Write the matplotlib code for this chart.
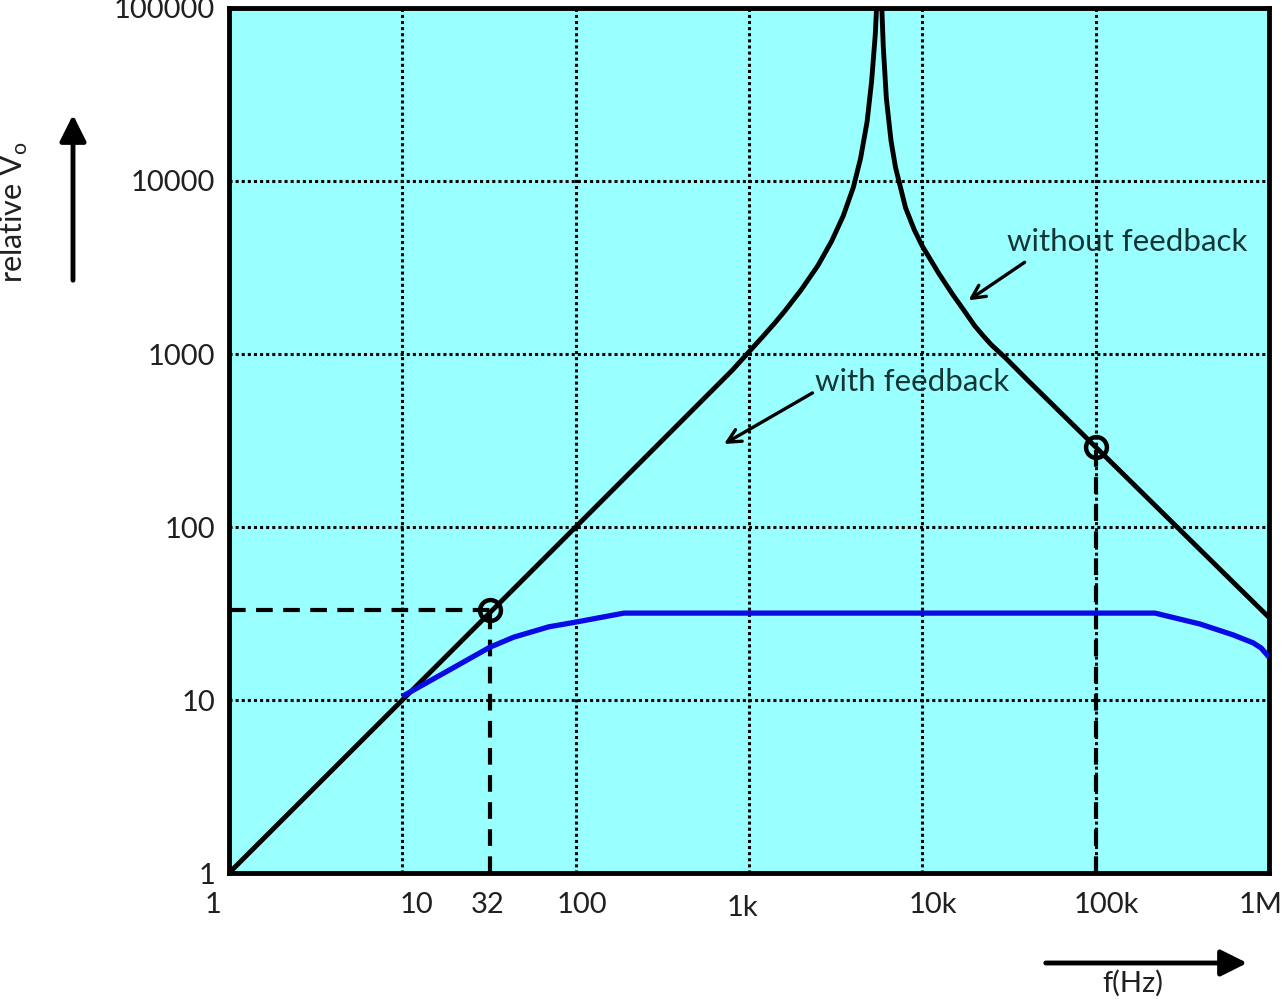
import numpy as np
import matplotlib.pyplot as plt
from matplotlib.patches import FancyArrowPatch
from matplotlib.transforms import ScaledTranslation

# open-loop gain (without feedback)
f_open = [1, 10, 100, 800, 1000, 1200, 1400, 1600, 1800, 2000, 2500, 3000,
          3500, 4000, 4400, 4800, 5100, 5350, 5550, 5650, 5750, 5950, 6200,
          6600, 7000, 8000, 9000, 10000, 12500, 15000, 17500, 20000, 22500,
          25000, 30000, 40000, 100000, 1000000]
a_open = [1, 10, 100, 805, 1030, 1260, 1500, 1760, 2050, 2350, 3250, 4500,
          6300, 9200, 13500, 22000, 38000, 70000, 150000, 300000, 150000,
          60000, 30000, 17000, 12000, 7000, 5200, 4200, 2900, 2200, 1770,
          1460, 1270, 1130, 955, 715, 290, 30]

# closed-loop gain (with feedback)
f_fb = [10, 20, 32, 44, 70, 100, 190, 1000, 10000, 100000, 220000, 400000,
        620000, 810000, 900000, 1000000]
a_fb = [10.5, 15.5, 20.2, 23.1, 26.5, 28.2, 31.8, 31.8, 31.8, 31.8, 31.8, 27.5,
        23.8, 21.4, 20.0, 17.7]

# -3 dB points
mark_f = [32, 100000]
mark_a = [33, 290]

xticks = [1, 10, 32, 100, 1000, 10000, 100000, 1000000]
xlabels = ['1', '10', '32', '100', '1k', '10k', '100k', '1M']
yticks = [1, 10, 100, 1000, 10000, 100000]
ylabels = ['1', '10', '100', '1000', '10000', '100000']

txt = '#153535'
plt.rcParams['font.family'] = ['Lato', 'DejaVu Sans']

fig = plt.figure(figsize=(12.83, 9.99), dpi=100)
ax = fig.add_axes([0.1785, 0.1261, 0.8106, 0.8659])
ax.set_facecolor('#99ffff')
ax.set_xscale('log')
ax.set_yscale('log')
ax.set_xlim(1, 1e6)
ax.set_ylim(1, 1e5)

for x in [10, 100, 1000, 10000, 100000]:
    ax.axvline(x, color='black', lw=2.2, ls=(0, (1, 1)), zorder=1)
for y in [10, 100, 1000, 10000]:
    ax.axhline(y, color='black', lw=2.2, ls=(0, (1, 1)), zorder=1)

ax.plot(f_open, a_open, color='black', lw=3.5, zorder=3)
ax.plot(f_fb, a_fb, color='#0a0ae6', lw=3.8, solid_capstyle='butt', zorder=3)

# dashed construction lines to the -3 dB points
ax.plot([1, mark_f[0]], [mark_a[0], mark_a[0]], color='black', lw=3,
        ls=(0, (4, 2.5)), zorder=2)
ax.plot([mark_f[0], mark_f[0]], [1, mark_a[0]], color='black', lw=3,
        ls=(0, (4, 2.5)), zorder=2)
ax.plot([mark_f[1], mark_f[1]], [1, mark_a[1]], color='black', lw=3,
        ls=(0, (4, 2.5)), zorder=2)
ax.plot(mark_f, mark_a, 'o', ms=15, mfc='none', mec='black', mew=3.2, zorder=4)

for s in ax.spines.values():
    s.set_linewidth(3.5)

ax.set_xticks(xticks)
ax.set_xticklabels(xlabels)
ax.set_yticks(yticks)
ax.set_yticklabels(ylabels)
ax.minorticks_off()
ax.tick_params(axis='both', length=0, labelsize=21, labelcolor='#202020')
ax.tick_params(axis='x', pad=14)
ax.tick_params(axis='y', pad=10)

# the labels under the x axis are not quite centred on their ticks
x_shift = [-16, 14, -2, 6, -7, 11, 11, -8]
y_shift = [0, 0, 0, 0, -3, 0, 0, 0]
for lab, dx, dy in zip(ax.get_xticklabels(), x_shift, y_shift):
    lab.set_transform(lab.get_transform() + ScaledTranslation(dx / 100, dy / 100, fig.dpi_scale_trans))

ax.text(0.748, 0.7295, 'without feedback', transform=ax.transAxes,
        fontsize=22.5, color=txt, ha='left', va='center')
ax.text(0.563, 0.5676, 'with feedback', transform=ax.transAxes,
        fontsize=22.5, color=txt, ha='left', va='center')
ax.annotate('', xy=(0.711, 0.662), xytext=(0.765, 0.706),
            xycoords='axes fraction', textcoords='axes fraction',
            arrowprops=dict(arrowstyle='->', color='black', lw=2.4,
                            shrinkA=0, shrinkB=0, mutation_scale=24))
ax.annotate('', xy=(0.476, 0.496), xytext=(0.561, 0.555),
            xycoords='axes fraction', textcoords='axes fraction',
            arrowprops=dict(arrowstyle='->', color='black', lw=2.4,
                            shrinkA=0, shrinkB=0, mutation_scale=24))

# axis arrows outside the plot
fig.add_artist(FancyArrowPatch((73 / 1283, 1 - 283 / 999), (73 / 1283, 1 - 112 / 999),
                               transform=fig.transFigure, arrowstyle='-|>',
                               mutation_scale=40, lw=3.5, color='black'))
fig.add_artist(FancyArrowPatch((1043 / 1283, 1 - 963 / 999), (1250 / 1283, 1 - 963 / 999),
                               transform=fig.transFigure, arrowstyle='-|>',
                               mutation_scale=40, lw=3.5, color='black'))
fig.text(14 / 1283, 1 - 212 / 999, 'relative V$_{\\mathregular{o}}$', rotation=90,
         fontsize=22, color='#202020', ha='center', va='center')
fig.text(1133 / 1283, 1 - 983 / 999, 'f(Hz)', fontsize=21, color='#202020',
         ha='center', va='center')

fig.savefig('out.png', dpi=100)
